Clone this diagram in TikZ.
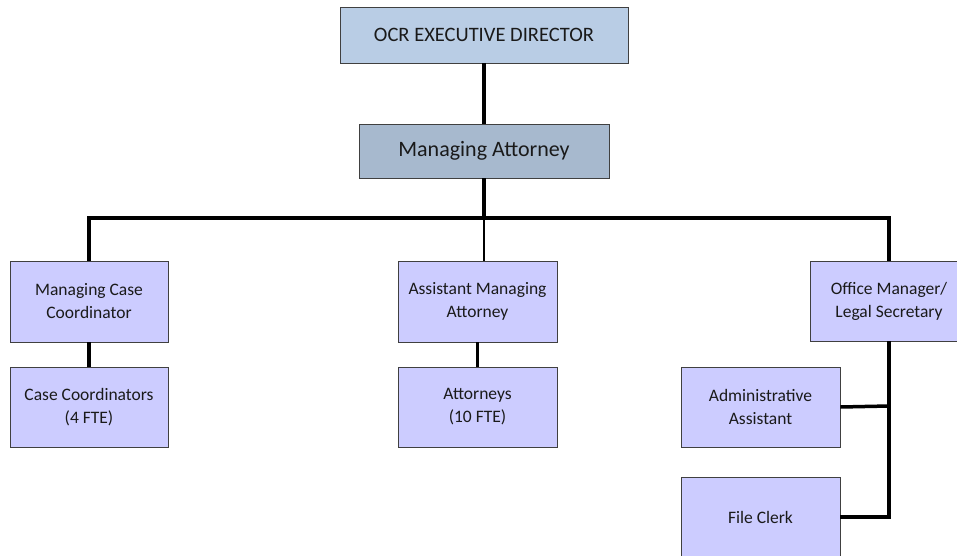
\documentclass[tikz,border=0pt]{standalone}
\usepackage{fontspec}
\setmainfont{Carlito}
\definecolor{topblue}{HTML}{B9CDE5}
\definecolor{mablue}{HTML}{A7B9CE}
\definecolor{lav}{HTML}{CCCCFF}
\definecolor{edge}{HTML}{404040}
\definecolor{txt}{HTML}{1A1A1A}
\begin{document}
\begin{tikzpicture}[x=1pt,y=1pt,
  box/.style={draw=edge,line width=0.9pt,fill=lav,minimum width=158pt,minimum height=80pt,align=center,inner sep=0pt,font=\fontsize{17.5}{23}\selectfont,text=txt},
  link/.style={line width=3.5pt,black},
  thinlink/.style={line width=2pt,black}]
\useasboundingbox (0,0) rectangle (957,-556);
\begin{scope}
\clip (0,0) rectangle (957,-556);
\node[box,fill=topblue,minimum width=288pt,minimum height=56pt,font=\fontsize{20.5}{24}\selectfont] (top) at (484,-35) {OCR EXECUTIVE DIRECTOR};
\node[box,fill=mablue,minimum width=250pt,minimum height=54pt,font=\fontsize{22}{26}\selectfont] (ma) at (484,-151) {Managing Attorney};
\node[box,minimum height=81pt] (mcc) at (89,-301.5) {Managing Case\\Coordinator};
\node[box] (cc) at (89,-407) {Case Coordinators\\(4 FTE)};
\node[box,minimum width=159pt,minimum height=81pt] (ama) at (477.5,-301.5) {Assistant Managing\\Attorney};
\node[box,minimum width=159pt] (att) at (477.5,-407) {Attorneys\\(10 FTE)};
\node[box] (om) at (889,-301) {Office Manager/\\Legal Secretary};
\node[box,minimum width=159pt] (aa) at (760.5,-407) {Administrative\\Assistant};
\node[box,minimum width=159pt] (fc) at (760.5,-517) {File Clerk};
\coordinate (hub) at (484,-218);
\coordinate (hl) at (89,-218);
\coordinate (hr) at (889,-218);
\coordinate (amatop) at (484,-261);
\coordinate (jaa) at (889,-406);
\coordinate (jfc) at (889,-517);
\draw[link] (top.south) -- (ma.north);
\draw[link] (ma.south) -- (hub);
\draw[link,line cap=rect] (hl) -- (hr);
\draw[link] (hl) -- (mcc.north);
\draw[link] (hr) -- (om.north);
\draw[thinlink] (hub) -- (amatop);
\draw[link] (mcc.south) -- (cc.north);
\draw[link] (ama.south) -- (att.north);
\draw[link] (om.south) -- (jfc) -- (fc.east);
\draw[link] (aa.east) -- (jaa);
\end{scope}
\end{tikzpicture}
\end{document}
